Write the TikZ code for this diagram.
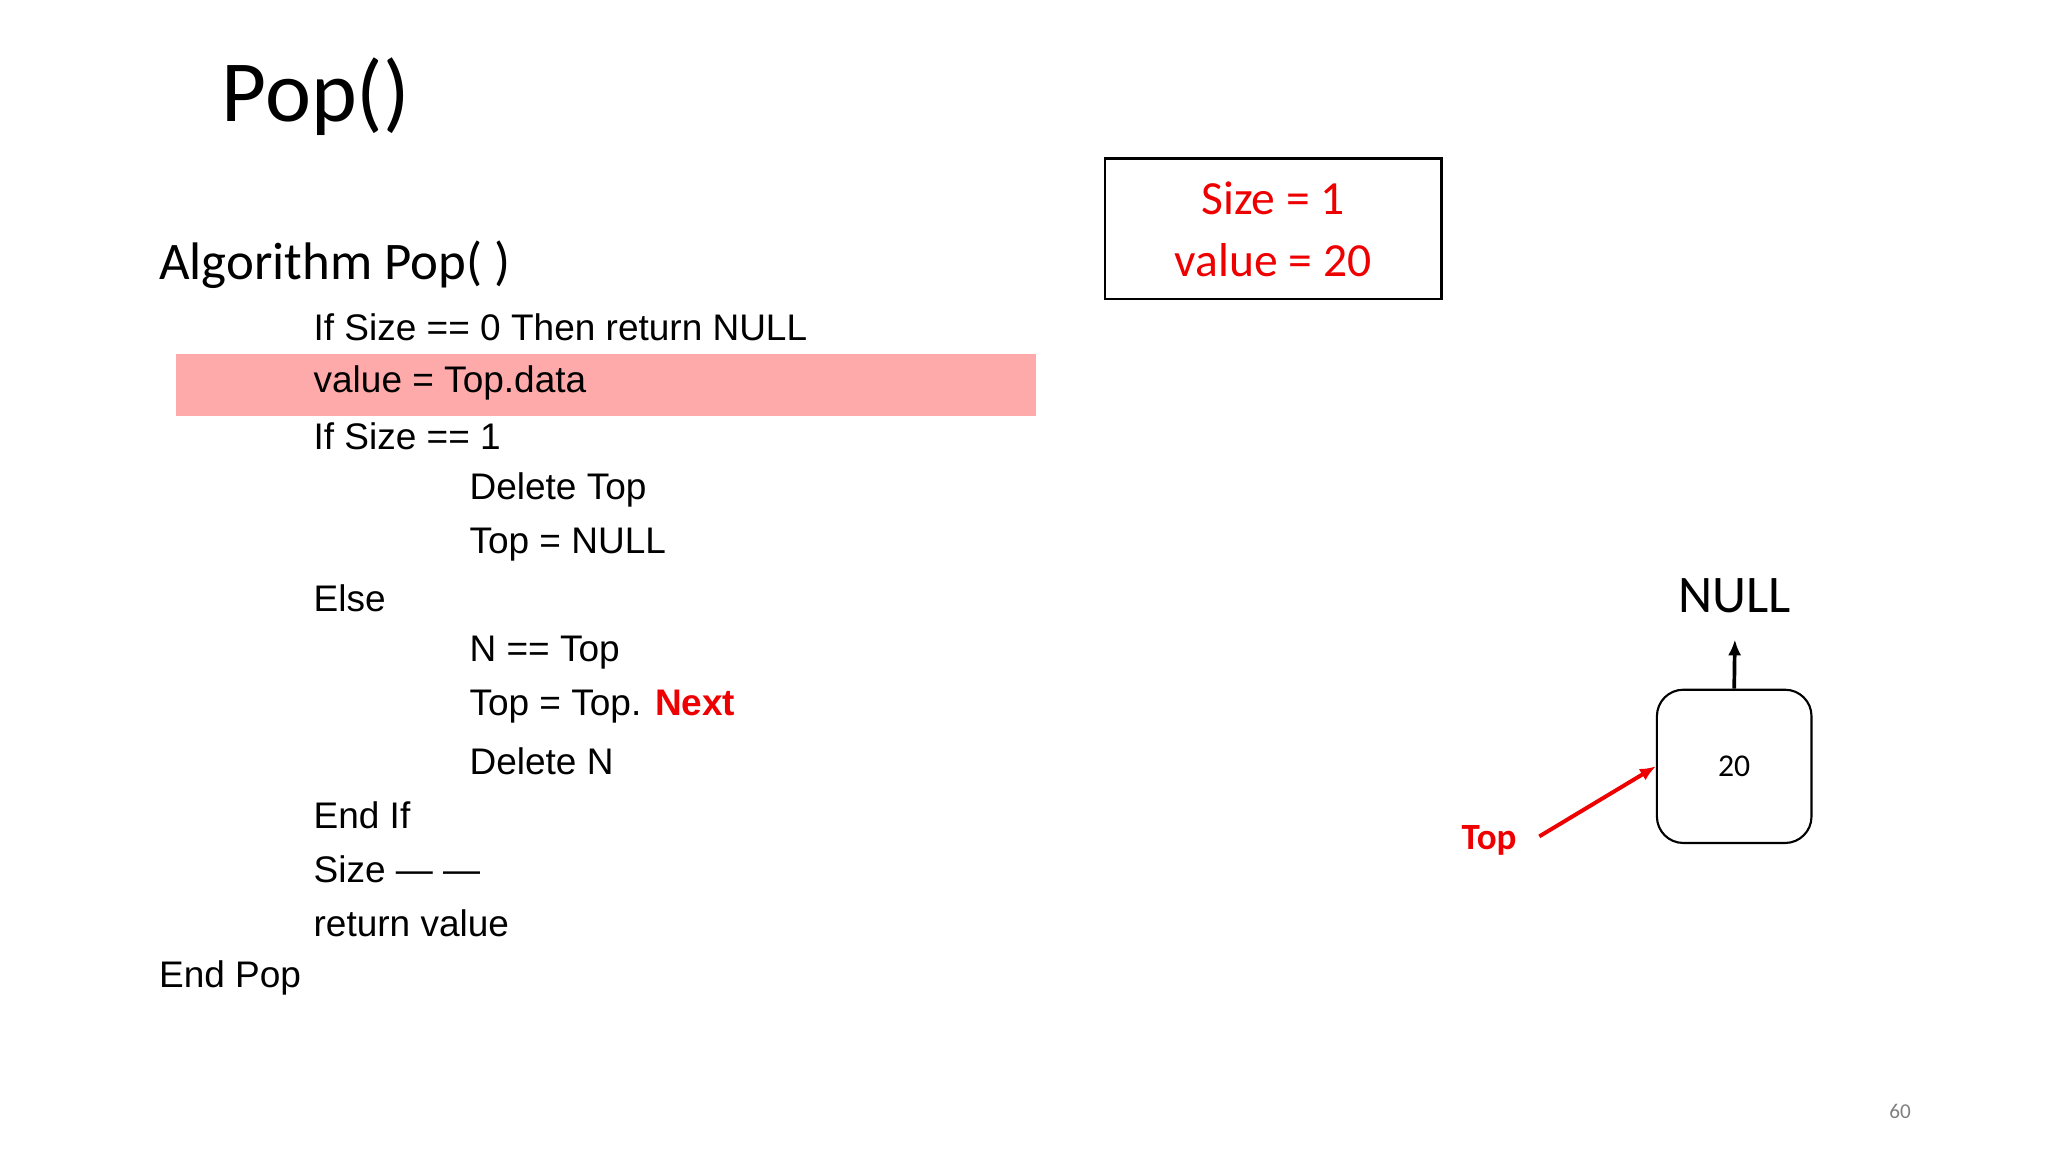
\documentclass[tikz,border=0pt]{standalone}
\usepackage{fontspec}
\setmainfont{Liberation Sans}
\newfontfamily\calfont{Carlito}
\usetikzlibrary{arrows.meta}
\definecolor{hl}{HTML}{FFAAAA}
\definecolor{rd}{HTML}{EE0000}
\begin{document}
\begin{tikzpicture}[x=0.5pt,y=-0.5pt,
  code/.style={anchor=west,inner sep=0,font=\fontsize{14}{16}\selectfont},
  red arrow/.style={draw=rd,line width=1.5pt,-{Latex[length=6pt,width=5pt]}}]
\useasboundingbox (0,0) rectangle (1550,872);
\node[anchor=center,font=\calfont\fontsize{33}{38}\selectfont] (title) at (239,73) {Pop()};
\fill[hl] (133,268) rectangle (784,315);
\node[anchor=west,inner sep=0,font=\calfont\fontsize{20}{24}\selectfont] (alg) at (120,200) {Algorithm Pop( )};
\node[code] (l1) at (237,248) {If Size == 0 Then return NULL};
\node[code] (l2) at (237,290) {value = Top.data};
\node[code] (l3) at (237,330) {If Size == 1};
\node[code] (l4) at (355,371) {Delete Top};
\node[code] (l5) at (355,412) {Top = NULL};
\node[code] (l6) at (237,453) {Else};
\node[code] (l7) at (355,494) {N == Top};
\node[code] (l8) at (355,535) {Top = Top. \textcolor{rd}{\bfseries Next}};
\node[code] (l9) at (355,576) {Delete N};
\node[code] (l10) at (237,617) {End If};
\node[code] (l11) at (237,658) {Size — —};
\node[code] (l12) at (237,699) {return value};
\node[code] (l13) at (120,740) {End Pop};
\node[draw,line width=0.8pt,minimum width=127.5pt,minimum height=53pt,inner sep=0] (sz) at (963.5,173) {};
\node[text=rd,font=\calfont\fontsize{18}{22}\selectfont] at (963.5,150) {Size = 1};
\node[text=rd,font=\calfont\fontsize{18}{22}\selectfont] at (963.5,197) {value = 20};
\node[draw,line width=0.8pt,rounded corners=10pt,minimum width=58.5pt,minimum height=58pt,inner sep=0,font=\calfont\fontsize{12}{14}\selectfont] (n) at (1312.5,580) {20};
\node[font=\calfont\fontsize{20}{24}\selectfont] (null) at (1313,451) {NULL};
\coordinate (nt) at (1313,484);
\draw[line width=1.4pt,-{Latex[length=6pt,width=5pt]}] (n.north) -- (nt);
\node[text=rd,font=\calfont\bfseries\fontsize{14}{16}\selectfont] (top) at (1127,636) {Top};
\coordinate (ts) at (1165,633);
\draw[red arrow] (ts) -- (n.west);
\node[text=gray,font=\calfont\fontsize{8}{10}\selectfont] (pg) at (1438,841) {60};
\end{tikzpicture}
\end{document}
